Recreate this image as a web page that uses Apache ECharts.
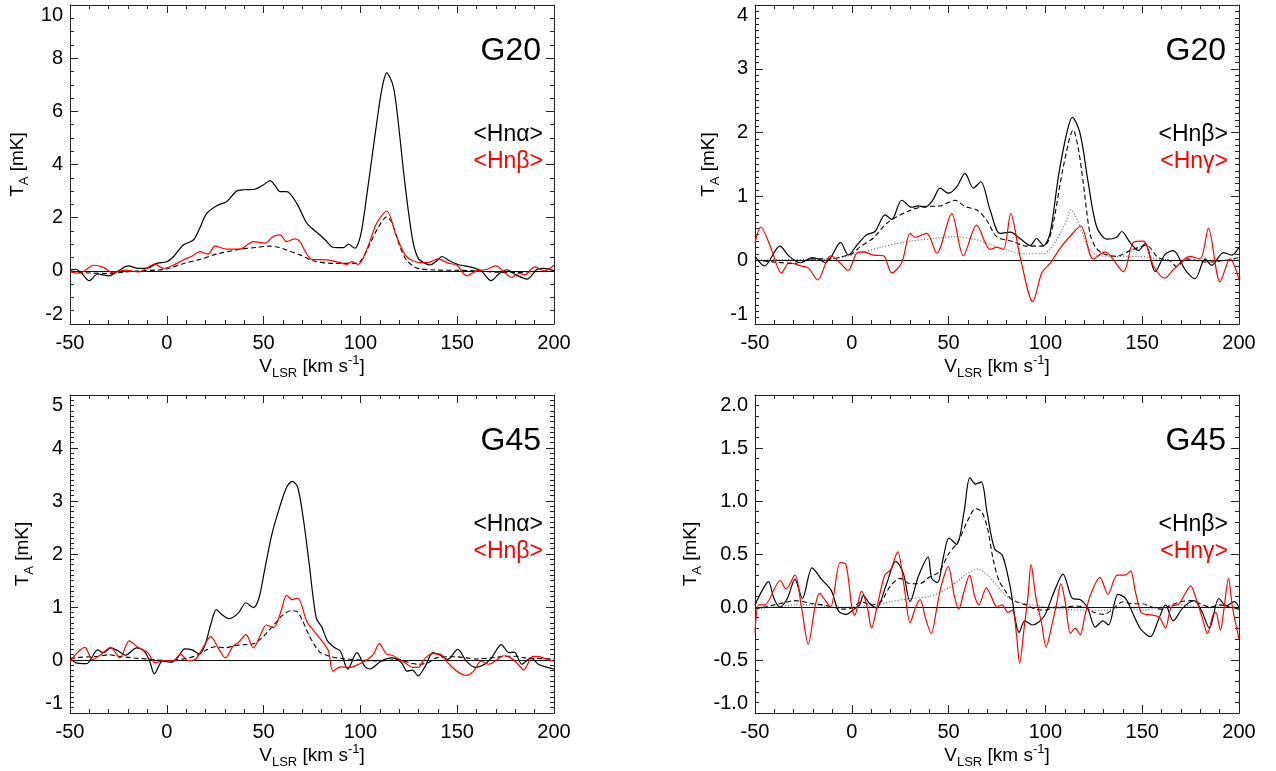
<!DOCTYPE html>
<html>
<head>
<meta charset="utf-8">
<script src="https://cdn.jsdelivr.net/npm/echarts/dist/echarts.min.js"></script>
<style>
html,body{margin:0;padding:0;background:#fff;}
#chart{width:1276px;height:771px;}
</style>
</head>
<body>
<div id="chart"></div>
<script>
// ---------------- DATA ----------------
// Panel 1: G20, <Hn alpha> (black), <Hn beta> (red), dashed model
const p1_black_v = [-50,-47,-44.3,-40,-35.7,-30,-25,-20,-14.6,-10,-5.2,0,3.4,8.5,13.7,17,20.6,25.8,30.9,36.1,40,44.7,49.8,53.3,56,58.5,61.9,67.1,72.3,75,79.1,82,85.2,88,91.2,93.8,97.2,98.9,100.7,103.2,105.8,108.4,111,113.6,117,119.6,122.2,124.7,127.3,129.9,133,136,139,142.2,146,150.8,156.6,162.3,167.5,171.9,175.7,179.5,186.2,191,194.8,200];
const p1_black_T = [0.04,0.06,-0.06,-0.37,-0.12,-0.19,0.0,0.19,0.09,0.1,0.28,0.34,0.53,0.97,1.16,1.6,2.16,2.45,2.6,3.0,3.05,3.06,3.23,3.39,3.2,2.98,2.98,2.54,1.79,1.6,1.35,1.15,0.91,0.87,0.87,1.0,0.85,1.04,1.54,2.79,4.17,5.55,6.8,7.45,6.93,5.55,3.79,2.29,1.04,0.47,0.3,0.22,0.35,0.54,0.38,0.23,0.15,0.0,-0.37,-0.09,0.04,-0.12,-0.31,0.04,0.09,0.0];
const p1_red_v = [-50,-45.2,-37.6,-32.8,-28,-21.3,-14.6,-6.1,-1.8,3,8.5,13,17.1,21.4,24.9,30.9,37.8,44.7,50.7,55,58.5,61.9,66.2,68.8,71,74.8,82.6,89.5,92.9,95.5,98.9,103.2,108.4,113.6,118.7,123.9,130.8,136,140,145,150,155,160,165,170,175,178,182,185,190,195,200];
const p1_red_T = [-0.04,-0.09,0.21,0.13,-0.06,0.03,-0.04,0.25,0.09,0.2,0.41,0.55,0.72,0.63,0.93,0.82,0.82,1.1,1.04,1.29,1.35,1.1,1.2,1.1,0.8,0.43,0.41,0.31,0.24,0.35,0.24,0.78,1.79,2.25,1.29,0.53,0.31,0.33,0.45,0.3,0.2,-0.19,0.0,0.05,0.19,-0.1,-0.25,-0.1,-0.15,0.15,0.0,0.21];
const p1_dash_v = [-50,-45,-40,-30,-20,-14,-5,0,8.5,17.1,25.8,37.8,46,53.3,58,61.9,68.8,75.7,86.1,98,101,105,109,113.6,116,118.7,121,123.9,129,139.4,150,160,170,180,190,200];
const p1_dash_T = [0.0,-0.05,-0.08,-0.1,-0.03,0.0,0.03,0.07,0.27,0.43,0.63,0.81,0.88,0.93,0.88,0.78,0.6,0.38,0.28,0.28,0.45,1.03,1.6,2.03,1.85,1.29,0.8,0.4,0.11,0.03,0.02,0.0,-0.05,-0.06,-0.03,-0.02];

// Panel 2: G20, <Hn beta> (black), <Hn gamma> (red), dashed + dotted models
const p2_black_v = [-50,-45.1,-37.2,-32.3,-26.4,-20.5,-16.6,-13.7,-10.7,-5.8,-1.8,3,7.7,12,17.2,20.6,25.8,31,34.4,37.9,42,45.6,49.9,54.2,58.5,62.8,66.6,71.4,76.6,81.8,86.9,92.1,95.5,99,102.4,106.7,111,113.9,117.9,122.2,126.5,131.7,136.8,139.4,143.7,148,151.5,156.7,161.8,166.1,172.2,177.3,182.5,185.9,191.9,196.2,200];
const p2_black_T = [0.06,-0.09,0.22,0.06,-0.04,0.04,0.01,-0.04,0.05,0.28,0.08,0.25,0.4,0.45,0.71,0.64,0.94,0.83,0.85,0.83,0.95,1.13,1.05,1.15,1.36,1.13,1.23,0.79,0.42,0.44,0.34,0.23,0.34,0.23,0.42,1.31,1.99,2.24,1.99,1.2,0.52,0.33,0.36,0.45,0.28,0.15,0.26,-0.18,0.09,0.15,-0.15,-0.29,0.02,-0.08,0.12,0.08,0.2];
const p2_dash_v = [-50,-40,-30,-20,-10,-6.1,0,4.3,11.2,18.1,28.4,37,45.6,53.3,58.5,64.5,69.6,74.8,83.4,90.3,98.9,101.5,104.1,109.3,114.4,117,119.6,123,126,129.9,136.8,143.7,152.3,158.3,164.4,167.8,173,183.3,193.6,200];
const p2_dash_T = [0.0,-0.03,-0.05,0.02,0.02,0.05,0.1,0.21,0.35,0.58,0.76,0.84,0.85,0.94,0.84,0.79,0.63,0.37,0.29,0.22,0.22,0.3,0.58,1.47,2.04,1.75,1.2,0.42,0.2,0.1,0.06,0.15,0.23,0.04,-0.01,-0.1,0.02,-0.03,0.0,0.04];
const p2_dot_v = [-50,-30,-10,-6.1,4.3,14.6,28.4,42.2,53.3,62.8,69.6,79.9,90.3,98.9,102,105.8,109,111,113.2,115.5,117.9,122.2,126.5,136.8,148.9,157.5,170,185,200];
const p2_dot_T = [0.0,0.01,0.02,0.04,0.11,0.2,0.29,0.34,0.37,0.33,0.27,0.16,0.1,0.1,0.16,0.32,0.5,0.63,0.79,0.7,0.52,0.21,0.08,0.06,0.06,0.02,0.0,0.0,0.0];
const p2_red_v = [-50,-47,-42.1,-36.3,-32.3,-26.4,-22.5,-17.6,-12.7,-10.7,-6.1,-1.9,2.6,6,11.2,16.4,20.6,25.8,30.1,32.7,38.7,43.9,51.6,57.6,64.5,71.4,74.8,78.3,82.1,86.9,93.5,98.1,102.4,108.4,114.4,118.2,124.7,130.8,140.3,145.4,150.6,155.8,161.8,166.1,174.7,179.9,184.2,190.2,195.4,200];
const p2_red_T = [0.27,0.52,0.22,-0.2,-0.04,-0.09,-0.12,-0.31,0.01,0.07,-0.04,-0.16,0.11,0.13,0.08,0.07,-0.2,-0.04,0.42,0.36,0.42,0.11,0.73,0.07,0.55,0.17,0.2,0.17,0.73,0.06,-0.65,-0.2,-0.05,0.22,0.43,0.54,0.02,0.13,-0.18,0.28,0.3,-0.09,-0.28,-0.15,0.06,0.02,0.5,-0.34,0.02,-0.3];

// Panel 3: G45, <Hn alpha> (black), <Hn beta> (red), dashed model
const p3_black_v = [-50,-47.1,-41.4,-35.7,-32.8,-29,-25.1,-21.3,-15.6,-11.7,-8.9,-6.4,-2.2,2.6,5.5,9.3,13.1,16.9,19.8,22.7,25.6,28.4,32.3,37,40.9,44.7,47.6,50.4,54.2,58.1,61.9,64.8,67.6,70.5,73.4,77.2,80.1,83,86.8,89.6,93.5,98.2,102.1,104.9,110.7,116.4,121.2,124.1,126.9,129.8,133.6,137.5,141.3,145.1,150.3,154.7,159.5,164.2,168.1,172.8,176.7,179.5,183.4,188.1,191.9,196.7,200];
const p3_black_T = [0.04,-0.05,-0.07,0.19,0.14,0.23,0.17,0.09,0.23,0.17,-0.02,-0.26,-0.02,-0.04,0.04,0.21,0.19,0.11,0.29,0.67,0.95,0.86,0.78,0.89,1.08,0.99,1.17,1.67,2.36,2.86,3.26,3.37,3.26,2.67,1.86,0.79,0.62,0.36,0.23,0.17,-0.17,0.14,-0.11,-0.17,-0.02,0.04,-0.05,-0.21,-0.19,-0.3,-0.11,0.14,0.09,0.01,0.2,-0.02,-0.14,-0.08,0.06,0.29,0.14,0.15,-0.08,0.04,-0.08,-0.14,-0.17];
const p3_red_v = [-50,-42.3,-38.5,-33.7,-29,-24.2,-19.4,-14.6,-9.8,-6,-0.6,3.2,7.1,10.9,14.7,18.6,22.7,26.5,30.3,34.2,37,40.9,44.7,48.5,51.4,55.2,59,61.9,64.8,67.6,72.4,76.2,80.1,83.5,85.8,89.6,94.4,99.2,103,106.8,109.7,113.5,116.4,120.2,124.1,126.9,129.8,133.6,137.5,141.3,145.1,149.9,154.7,158.5,162.3,166.1,170,173.8,177.6,181.4,184.3,189.1,192.9,196.7,200];
const p3_red_T = [-0.02,0.24,0.01,0.11,0.24,0.04,0.36,0.23,0.14,-0.05,-0.01,-0.02,0.11,-0.01,0.01,0.23,0.44,0.23,0.04,0.26,0.33,0.48,0.23,0.48,0.66,0.61,0.92,1.22,1.14,1.17,0.72,0.54,0.36,0.17,-0.21,-0.13,-0.14,-0.08,-0.01,0.11,0.31,0.11,0.09,0.01,-0.08,-0.14,-0.14,0.04,0.12,0.11,-0.05,-0.21,-0.29,-0.21,-0.02,-0.08,-0.01,0.08,0.04,-0.08,-0.19,0.07,0.06,0.01,-0.02];
const p3_dash_v = [-50,-45,-40,-35,-30,-25,-20,-15,-10,-5,0,5,10,15,20,25,30,35,40,45,50,55,60,64,67,70,73,76,79,82,85,90,100,110,120,125,130,135,140,145,150,155,160,170,175,180,185,190,200];
const p3_dash_T = [0.03,0.05,0.06,0.07,0.1,0.07,0.05,0.03,0.02,0.0,-0.01,0.0,0.03,0.08,0.18,0.25,0.23,0.27,0.29,0.31,0.45,0.65,0.85,0.93,0.92,0.75,0.5,0.3,0.15,0.1,0.06,0.03,0.0,-0.02,0.01,-0.05,-0.08,-0.05,0.05,0.06,0.06,0.04,0.02,0.05,0.07,0.07,0.04,0.03,0.02];

// Panel 4: G45, <Hn beta> (black), <Hn gamma> (red), dashed + dotted models
const p4_black_v = [-50,-46.5,-43.1,-40.2,-37.2,-33.3,-29.4,-25.5,-20.5,-15.6,-10.7,-6.8,-2.9,1.1,4,6,8.9,12.8,17.8,22.7,26.6,30.1,34.4,39.4,41.3,44.3,47.2,50.2,54.1,58,61,63.9,66.9,69.8,73.7,77.7,81.6,86.5,89.4,93.4,99.3,104.2,109.1,114,117.9,121.8,125.8,129.7,132.6,137.5,141.5,145.4,149.3,154.2,158.2,162.1,166,170.9,176.8,180.8,184.7,189.6,193.5,197.5,200];
const p4_black_T = [0.02,0.15,0.24,0.08,0,0.08,0.26,0.08,0.37,0.26,0.16,-0.04,-0.07,-0.02,0.02,0.11,0.04,-0.01,0.21,0.43,0.32,0.05,0.29,0.47,0.27,0.23,0.46,0.65,0.59,0.9,1.22,1.16,1.18,0.9,0.55,0.49,0.21,-0.24,-0.13,-0.17,-0.09,0.13,0.31,0.08,0.07,-0.01,-0.19,-0.13,-0.17,0.12,0.08,-0.07,-0.21,-0.28,-0.13,0.02,-0.13,-0.01,0.06,-0.04,-0.2,0.08,0.01,0.05,0.0];
const p4_dash_v = [-50,-45,-40,-35,-30,-25,-20,-15,-10,-5,0,5,10,15,20,25,30,35,40,45,50,55,60,64,67,70,73,76,79,82,85,90,95,100,105,110,115,120,125,130,135,140,145,150,155,160,165,170,175,180,185,190,195,200];
const p4_dash_T = [-0.02,0.0,0.02,0.04,0.06,0.05,0.03,0.02,0.0,-0.02,-0.01,0.05,0.02,0.05,0.2,0.27,0.22,0.22,0.28,0.33,0.5,0.62,0.82,0.93,0.9,0.75,0.45,0.25,0.16,0.08,0.05,0.02,-0.02,-0.03,0.0,0.0,0.01,0.0,-0.05,-0.07,-0.02,0.05,0.03,0.03,0.0,-0.02,0.02,0.05,0.06,0.03,0.0,0.02,0.0,-0.02];
const p4_dot_v = [-50,-40,-30,-20,-10,0,10,20,30,40,50,55,60,65,70,75,80,85,90,100,110,120,130,140,150,160,170,180,190,200];
const p4_dot_T = [-0.02,0.0,0.02,0.02,0.0,0.0,0.0,0.05,0.08,0.1,0.18,0.25,0.32,0.36,0.3,0.2,0.1,0.05,0.03,0.0,-0.02,-0.03,-0.03,0.0,-0.03,0.0,0.02,0.0,0.0,-0.02];
const p4_red_v = [-50,-48,-45,-37,-34,-29.4,-26,-22.5,-19,-16.6,-14,-11,-6,-3,0,1.5,5,8,10.2,13,17,20,23.7,27,30.1,33,35.3,38,41,44,46.2,49.8,53,55.2,58,60.8,63.5,65.6,69.5,72,75,77.7,80.5,83,85,86.7,89,91,92.6,95,98,100.4,103,106,108,110.2,113,115.3,118,120.2,123,128.2,132.3,137.1,141,144,146.4,149.4,152,156,159,162,165,169,172,175,178,181,183.7,186.5,188,190.4,192,194.6,196.6,200];
const p4_red_T = [-0.24,0.02,0.02,0.25,0.17,0.3,0.0,-0.35,0.0,0.13,0.07,0.0,0.42,0.4,0.0,-0.08,0.15,0.0,-0.2,0.0,0.3,0.35,0.52,0.2,-0.15,0.0,0.07,-0.1,-0.25,0.0,0.2,0.38,0.1,-0.02,0.15,0.3,0.1,0.02,0.18,0.1,0.0,0.02,-0.05,-0.03,-0.25,-0.53,-0.2,0.1,0.4,0.1,-0.15,-0.38,-0.2,0.05,0.22,0.05,-0.25,-0.2,-0.26,-0.1,0.1,0.28,0.12,0.3,0.3,0.34,0.15,-0.05,-0.07,-0.08,-0.1,-0.2,0.0,0.03,0.12,0.2,0.07,-0.1,-0.25,-0.08,-0.05,-0.22,-0.05,0.27,0.0,-0.3];

// Axis ranges / tick settings
const X_RANGE = {min: -50, max: 200, interval: 50, minor: 5};
const Y_RANGES = [
  {min: -2, max: 10, interval: 2, minor: 4, dec: 0},
  {min: -1, max: 4, interval: 1, minor: 10, dec: 0},
  {min: -1, max: 5, interval: 1, minor: 10, dec: 0},
  {min: -1, max: 2, interval: 0.5, minor: 5, dec: 1}
];
// Panel texts
const SOURCES = ['G20', 'G20', 'G45', 'G45'];
const LINES_BLACK = ['<Hn\u03b1>', '<Hn\u03b2>', '<Hn\u03b1>', '<Hn\u03b2>'];
const LINES_RED = ['<Hn\u03b2>', '<Hn\u03b3>', '<Hn\u03b2>', '<Hn\u03b3>'];

// ---------------- LAYOUT ----------------
const FONT = "'Liberation Sans', Arial, Helvetica, sans-serif";
const GRIDS = [
  {left: 70, top: 5, width: 484, height: 319},
  {left: 755, top: 5, width: 484, height: 319},
  {left: 70, top: 395, width: 484, height: 318},
  {left: 755, top: 395, width: 484, height: 318}
];
const Y_NAME_GAP = [39, 33, 34, 51];
const AX = '#222';

const zip = (v, t) => v.map((x, i) => [x, t[i]]);

const richTitle = {
  m: {fontSize: 19, fontFamily: FONT, color: '#000', lineHeight: 26, verticalAlign: 'middle'},
  s: {fontSize: 13, fontFamily: FONT, color: '#000', lineHeight: 13, verticalAlign: 'bottom'},
  p: {fontSize: 13, fontFamily: FONT, color: '#000', lineHeight: 13, verticalAlign: 'top'}
};

const xAxes = [], yAxes = [];
GRIDS.forEach((g, gi) => {
  const yr = Y_RANGES[gi];
  const common = {
    type: 'value', gridIndex: gi,
    splitLine: {show: false},
    axisLine: {show: true, onZero: false, lineStyle: {color: AX, width: 1}},
    axisTick: {show: true, inside: true, length: 8, lineStyle: {color: AX, width: 1}},
  };
  xAxes.push(Object.assign({}, common, {
    position: 'bottom', min: X_RANGE.min, max: X_RANGE.max, interval: X_RANGE.interval,
    minorTick: {show: true, splitNumber: X_RANGE.minor, length: 4, lineStyle: {color: AX, width: 1}},
    axisLabel: {show: true, margin: 9, color: '#000', fontSize: 20, fontFamily: FONT},
    name: '{m|V}{s|LSR}{m| [km s}{p|-1}{m|]}',
    nameLocation: 'middle', nameGap: 27,
    nameTextStyle: {rich: richTitle}
  }));
  xAxes.push(Object.assign({}, common, {
    position: 'top', min: X_RANGE.min, max: X_RANGE.max, interval: X_RANGE.interval,
    minorTick: {show: true, splitNumber: X_RANGE.minor, length: 4, lineStyle: {color: AX, width: 1}},
    axisLabel: {show: false}
  }));
  yAxes.push(Object.assign({}, common, {
    position: 'left', min: yr.min, max: yr.max, interval: yr.interval,
    minorTick: {show: true, splitNumber: yr.minor, length: 4, lineStyle: {color: AX, width: 1}},
    axisLabel: {show: true, margin: 7, color: '#000', fontSize: 20, fontFamily: FONT,
      formatter: v => v.toFixed(yr.dec),
      verticalAlignMinLabel: 'bottom', verticalAlignMaxLabel: 'top'},
    name: '{m|T}{s|A}{m| [mK]}',
    nameLocation: 'middle', nameGap: Y_NAME_GAP[gi], nameRotate: 90,
    nameTextStyle: {rich: richTitle}
  }));
  yAxes.push(Object.assign({}, common, {
    position: 'right', min: yr.min, max: yr.max, interval: yr.interval,
    minorTick: {show: true, splitNumber: yr.minor, length: 4, lineStyle: {color: AX, width: 1}},
    axisLabel: {show: false}
  }));
});

function line(gi, v, T, kind) {
  const styles = {
    black: {color: '#000', width: 1.2, type: 'solid'},
    red: {color: '#ff0000', width: 1.2, type: 'solid'},
    dash: {color: '#000', width: 1.1, type: [5, 3]},
    dot: {color: '#555', width: 1.1, type: [1, 2]}
  };
  const zs = {black: 3, dash: 4, dot: 4, red: 5};
  return {
    type: 'line', xAxisIndex: gi * 2, yAxisIndex: gi * 2,
    data: zip(v, T), showSymbol: false, symbol: 'none', smooth: 0.3,
    lineStyle: styles[kind], z: zs[kind], silent: true
  };
}
function zeroLine(gi) {
  return {
    type: 'line', xAxisIndex: gi * 2, yAxisIndex: gi * 2, data: [], silent: true, z: 2,
    markLine: {silent: true, symbol: ['none', 'none'], label: {show: false},
      lineStyle: {color: '#111', width: 1, type: 'solid'}, data: [{yAxis: 0}], animation: false}
  };
}

const series = [
  zeroLine(0), line(0, p1_black_v, p1_black_T, 'black'), line(0, p1_dash_v, p1_dash_T, 'dash'), line(0, p1_red_v, p1_red_T, 'red'),
  zeroLine(1), line(1, p2_black_v, p2_black_T, 'black'), line(1, p2_dash_v, p2_dash_T, 'dash'), line(1, p2_dot_v, p2_dot_T, 'dot'), line(1, p2_red_v, p2_red_T, 'red'),
  zeroLine(2), line(2, p3_black_v, p3_black_T, 'black'), line(2, p3_dash_v, p3_dash_T, 'dash'), line(2, p3_red_v, p3_red_T, 'red'),
  zeroLine(3), line(3, p4_black_v, p4_black_T, 'black'), line(3, p4_dash_v, p4_dash_T, 'dash'), line(3, p4_dot_v, p4_dot_T, 'dot'), line(3, p4_red_v, p4_red_T, 'red')
];

const graphic = [];
GRIDS.forEach((g, gi) => {
  const right = g.left + g.width;
  graphic.push({type: 'text', style: {text: SOURCES[gi], x: right - 13, y: g.top + 46, align: 'right', verticalAlign: 'middle', fill: '#000', font: '32px ' + FONT}});
  graphic.push({type: 'text', style: {text: LINES_BLACK[gi], x: right - 11, y: g.top + 130, align: 'right', verticalAlign: 'middle', fill: '#000', font: '23px ' + FONT}});
  graphic.push({type: 'text', style: {text: LINES_RED[gi], x: right - 11, y: g.top + 157, align: 'right', verticalAlign: 'middle', fill: '#ff0000', font: '23px ' + FONT}});
});

const chart = echarts.init(document.getElementById('chart'), null, {renderer: 'canvas'});
chart.setOption({
  animation: false,
  backgroundColor: '#fff',
  grid: GRIDS.map(g => Object.assign({outerBoundsMode: 'none', containLabel: false}, g)),
  xAxis: xAxes,
  yAxis: yAxes,
  series: series,
  graphic: graphic
});
</script>
</body>
</html>
